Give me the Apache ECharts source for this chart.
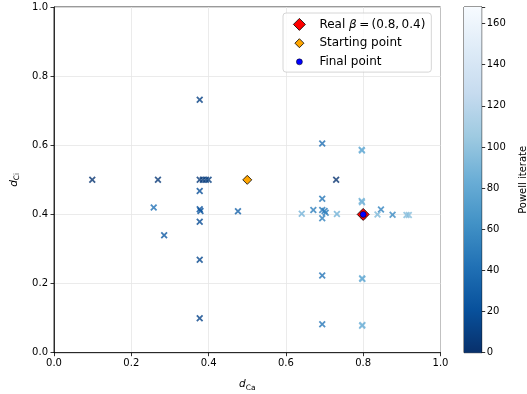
<!DOCTYPE html>
<html>
<head>
<meta charset="utf-8">
<script src="https://cdn.jsdelivr.net/npm/echarts@6/dist/echarts.min.js"></script>
<style>html,body{margin:0;padding:0;background:#fff}#c{width:527px;height:394px}</style>
</head>
<body>
<div id="c"></div>
<script>
// Powell iterates (x = d_Ca, y = d_Ci, c = iterate index)
var xVals = [0.730, 0.099, 0.269, 0.377, 0.385, 0.393, 0.400, 0.377, 0.377, 0.377, 0.377, 0.377, 0.377, 0.379,
             0.285, 0.476, 0.258, 0.694, 0.694, 0.694, 0.694, 0.671, 0.694, 0.700, 0.703, 0.694, 0.846, 0.876,
             0.641, 0.732, 0.796, 0.797, 0.796, 0.797, 0.797, 0.798, 0.797, 0.798, 0.837, 0.912, 0.918, 0.800, 0.800];
var yVals = [0.500, 0.500, 0.500, 0.500, 0.500, 0.500, 0.500, 0.732, 0.0995, 0.269, 0.379, 0.468, 0.415, 0.410,
             0.340, 0.409, 0.420, 0.605, 0.445, 0.223, 0.082, 0.413, 0.413, 0.410, 0.405, 0.389, 0.414, 0.399,
             0.402, 0.401, 0.587, 0.585, 0.439, 0.435, 0.215, 0.213, 0.078, 0.080, 0.400, 0.398, 0.398, 0.395, 0.400];
var iterVals = [2, 3, 5, 6, 7, 8, 9, 11, 13, 15, 17, 19, 20, 21,
                26, 32, 42, 40, 45, 44, 46, 50, 48, 49, 52, 53, 55, 58,
                88, 86, 84, 85, 86, 87, 83, 84, 88, 89, 92, 94, 95, 120, 168];
var realBeta = [0.8, 0.4];
var startPoint = [0.5, 0.5];
var finalPoint = [0.8, 0.4];
var iterMax = 168;
var axisTicks = [0, 0.2, 0.4, 0.6, 0.8, 1.0];
var cbarTicks = [0, 20, 40, 60, 80, 100, 120, 140, 160];

var bluesR = ['#08306b','#08519c','#2171b5','#4292c6','#6baed6','#9ecae1','#c6dbef','#deebf7','#f7fbff'];

var chart = echarts.init(document.getElementById('c'), null, {renderer: 'canvas'});
var scatterData = xVals.map(function (x, i) { return [x, yVals[i], iterVals[i]]; });

var font = 'DejaVu Sans';
var crossPath = 'path://M0,1.8L1.8,0L5,3.2L8.2,0L10,1.8L6.8,5L10,8.2L8.2,10L5,6.8L1.8,10L0,8.2L3.2,5Z';
var dotPath = 'path://M0,0M20,20M10,5A5,5,0,1,1,10,15A5,5,0,1,1,10,5Z';
var bigDiamond = 'path://M6,0L12,6L6,12L0,6Z';
var smallDiamond = 'path://M0,0M12,12M6,1.5L10.5,6L6,10.5L1.5,6Z';

var gradStops = bluesR.slice().reverse().map(function (c, i, a) { return {offset: i / (a.length - 1), color: c}; });

function axisCommon() {
  return {
    type: 'value', min: 0, max: 1, interval: 0.2,
    axisLine: {show: true, onZero: false, lineStyle: {color: '#000', width: 0.8}},
    axisTick: {show: true, length: 3.5, lineStyle: {color: '#000', width: 0.8}},
    axisLabel: {color: '#000', fontFamily: font, fontSize: 10, margin: 6,
      formatter: function (v) { return v.toFixed(1); }},
    splitLine: {show: true, lineStyle: {color: '#e6e6e6', width: 0.8}}
  };
}
var subRich = {
  i: {fontFamily: font, fontStyle: 'italic', fontSize: 10.5, color: '#000'},
  s: {fontFamily: font, fontSize: 7.5, color: '#000', padding: [6, 0, 0, 0]}
};
var xA = axisCommon();
xA.gridIndex = 0;
xA.name = '{i|d}{s|Ca}';
xA.nameLocation = 'middle';
xA.nameGap = 25;
xA.nameTextStyle = {color: '#000', rich: subRich};
var yA = axisCommon();
yA.gridIndex = 0;
yA.name = '{i|d}{s|Ci}';
yA.nameLocation = 'middle';
yA.nameGap = 33;
yA.nameRotate = 90;
yA.nameTextStyle = {color: '#000', rich: subRich};

chart.setOption({
  animation: false,
  backgroundColor: '#fff',
  grid: [
    {left: 54, right: 86.5, top: 7, bottom: 41.3, containLabel: false, outerBoundsMode: 'none',
     show: true, borderColor: '#000', borderWidth: 0.8, backgroundColor: 'transparent'},
    {left: 464, width: 17.7, top: 7, bottom: 41.3, containLabel: false, outerBoundsMode: 'none',
     show: true, borderColor: '#000', borderWidth: 0.8}
  ],
  xAxis: [xA, {
    gridIndex: 1, type: 'category', data: [''], show: false, boundaryGap: true
  }],
  yAxis: [yA, {
    gridIndex: 1, type: 'value', min: 0, max: iterMax, interval: 20, position: 'right',
    axisLine: {show: true, lineStyle: {color: '#000', width: 0.8}},
    axisTick: {show: true, length: 3.5, lineStyle: {color: '#000', width: 0.8}},
    axisLabel: {color: '#000', fontFamily: font, fontSize: 10, margin: 5,
      formatter: function (v) { return cbarTicks.indexOf(v) >= 0 ? String(v) : ''; }},
    splitLine: {show: false},
    name: 'Powell iterate', nameLocation: 'middle', nameGap: 37, nameRotate: 90,
    nameTextStyle: {color: '#000', fontFamily: font, fontSize: 10}
  }],
  visualMap: {
    show: false, type: 'continuous', seriesIndex: 0, dimension: 2,
    min: 0, max: iterMax, inRange: {color: bluesR}
  },
  legend: {
    orient: 'vertical', left: 283, top: 13,
    padding: [5, 6, 4, 10], itemWidth: 30, itemHeight: 12, itemGap: 6,
    backgroundColor: 'rgba(255,255,255,0.8)', borderColor: '#cccccc', borderWidth: 0.8, borderRadius: 3,
    textStyle: {color: '#000', fontFamily: font, fontSize: 12,
      rich: {b: {fontFamily: font, fontStyle: 'italic', fontSize: 12, color: '#000'}}},
    formatter: function (name) {
      if (name === 'real') return 'Real {b|β}\u2009=\u2009(0.8,\u20090.4)';
      if (name === 'start') return 'Starting point';
      return 'Final point';
    },
    data: [
      {name: 'real', icon: bigDiamond, itemStyle: {color: '#ff0000', borderColor: '#000', borderWidth: 0.8}},
      {name: 'start', icon: smallDiamond, itemStyle: {color: '#ffa500', borderColor: '#000', borderWidth: 0.8}},
      {name: 'final', icon: dotPath, itemStyle: {color: '#0000ff', borderColor: '#000', borderWidth: 0.5}}
    ]
  },
  series: [
    {
      name: 'iterates', type: 'scatter', xAxisIndex: 0, yAxisIndex: 0,
      symbol: crossPath, symbolSize: 7, data: scatterData, z: 2
    },
    {
      name: 'real', type: 'scatter', xAxisIndex: 0, yAxisIndex: 0,
      symbol: bigDiamond, symbolSize: 12, data: [realBeta], z: 3,
      itemStyle: {color: '#ff0000', borderColor: '#000', borderWidth: 0.8, opacity: 1}
    },
    {
      name: 'start', type: 'scatter', xAxisIndex: 0, yAxisIndex: 0,
      symbol: smallDiamond, symbolSize: 12, data: [startPoint], z: 3,
      itemStyle: {color: '#ffa500', borderColor: '#000', borderWidth: 0.8, opacity: 1}
    },
    {
      name: 'final', type: 'scatter', xAxisIndex: 0, yAxisIndex: 0,
      symbol: dotPath, symbolSize: 12, data: [finalPoint], z: 4,
      itemStyle: {color: '#0000ff', borderColor: '#000', borderWidth: 0.5, opacity: 1}
    },
    {
      name: 'colorbar', type: 'bar', xAxisIndex: 1, yAxisIndex: 1,
      data: [iterMax], barWidth: '100%', silent: true,
      itemStyle: {color: new echarts.graphic.LinearGradient(0, 0, 0, 1, gradStops)}
    }
  ]
});
</script>
</body>
</html>
